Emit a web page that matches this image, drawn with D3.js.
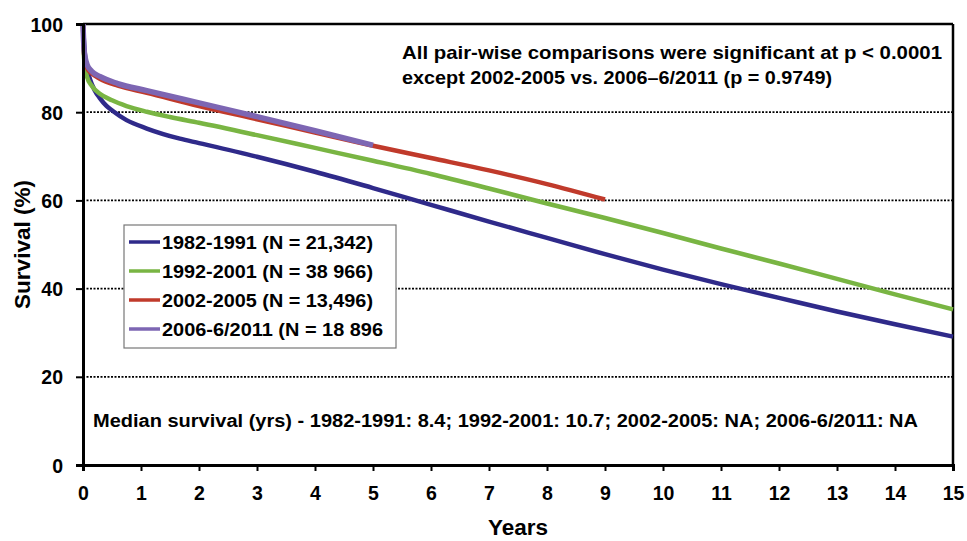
<!DOCTYPE html>
<html>
<head>
<meta charset="utf-8">
<script src="https://cdn.jsdelivr.net/npm/d3@7"></script>
<style>
  body { margin: 0; background: #fff; }
  svg { display: block; font-family: Arial, "Liberation Sans", sans-serif; }
</style>
</head>
<body>
<svg width="967" height="541"></svg>
<script>
// series (years, survival %)
const seriesNames = ["1982-1991 (N = 21,342)", "1992-2001 (N = 38 966)", "2002-2005 (N = 13,496)", "2006-6/2011 (N = 18 896"];
const seriesColors = ["#2f2a8a", "#79b543", "#c03a2b", "#7d66b3"];

const t1 = [0, 0.03, 0.07, 0.12, 0.2, 0.29, 0.4, 0.52, 0.75, 1.1, 1.67, 2, 3, 4, 5, 6, 7, 8, 9, 10, 11, 12, 13, 14, 15];
const v1 = [100, 93.5, 90, 87.5, 85, 83.2, 81.5, 80.2, 78.2, 76.3, 74, 73, 69.9, 66.5, 62.8, 59, 55.2, 51.5, 47.8, 44.3, 41, 37.9, 34.8, 31.9, 29.1];

const t2 = [0, 0.02, 0.07, 0.15, 0.29, 0.5, 0.75, 1.1, 1.5, 2, 3, 4, 5, 6, 7, 8, 9, 10, 11, 12, 13, 14, 15];
const v2 = [100, 92, 88, 86, 84.2, 82.7, 81.4, 80.1, 78.9, 77.6, 74.8, 71.9, 69, 66, 62.7, 59.3, 56, 52.6, 49.1, 45.7, 42.2, 38.7, 35.3];

const t3 = [0, 0.02, 0.07, 0.15, 0.29, 0.6, 1.1, 2, 3, 4, 5, 6, 7, 8, 9];
const v3 = [100, 93, 90, 88.8, 87.6, 86, 84.4, 81.4, 78.4, 75.4, 72.4, 69.6, 66.8, 63.7, 60.2];

const t4 = [0, 0.02, 0.07, 0.15, 0.29, 0.6, 1.1, 2, 3, 4, 5];
const v4 = [100, 94, 90.8, 89.3, 88.1, 86.5, 84.9, 82.1, 79, 75.8, 72.5];

const xTicks = d3.range(0, 16);
const yTicks = [0, 20, 40, 60, 80, 100];
const gridValues = [20, 40, 60, 80];

const noteLines = ["All pair-wise comparisons were significant at p < 0.0001",
                   "except 2002-2005 vs. 2006\u20136/2011 (p = 0.9749)"];
const medianText = "Median survival (yrs) - 1982-1991: 8.4; 1992-2001: 10.7; 2002-2005: NA; 2006-6/2011: NA";

const series = [[t1, v1], [t2, v2], [t3, v3], [t4, v4]].map((s, i) => ({
  name: seriesNames[i],
  color: seriesColors[i],
  pts: s[0].map((t, j) => [t, s[1][j]])
}));

const svg = d3.select("svg");
const mLeft = 83, mRight = 953, mTop = 24, mBottom = 465;

const x = d3.scaleLinear().domain([0, 15]).range([mLeft, mRight]);
const y = d3.scaleLinear().domain([0, 100]).range([mBottom, mTop]);

// grid lines (dotted)
svg.append("g").selectAll("line").data(gridValues).enter().append("line")
  .attr("x1", mLeft).attr("x2", mRight)
  .attr("y1", d => y(d)).attr("y2", d => y(d))
  .attr("stroke", "#000").attr("stroke-width", 1.8)
  .attr("stroke-dasharray", "2,1.5");

// frame top / right
svg.append("line").attr("x1", mLeft).attr("x2", mRight).attr("y1", mTop).attr("y2", mTop)
  .attr("stroke", "#000").attr("stroke-width", 2.5);
svg.append("line").attr("x1", mRight).attr("x2", mRight).attr("y1", mTop).attr("y2", mBottom)
  .attr("stroke", "#000").attr("stroke-width", 2.5);

// curves
const line = d3.line().x(d => x(d[0])).y(d => y(d[1])).curve(d3.curveMonotoneX);
svg.append("g").selectAll("path").data(series).enter().append("path")
  .attr("d", d => line(d.pts))
  .attr("fill", "none")
  .attr("stroke", d => d.color)
  .attr("stroke-width", (d, i) => i === 3 ? 5.5 : 4.5)
  .attr("stroke-linecap", "butt");

// axes
const xAxis = svg.append("g").attr("transform", `translate(0,${mBottom})`)
  .call(d3.axisBottom(x).tickValues(xTicks).tickSize(6).tickPadding(15).tickFormat(d3.format("d")));
const yAxis = svg.append("g").attr("transform", `translate(${mLeft},0)`)
  .call(d3.axisLeft(y).tickValues(yTicks).tickSize(7).tickPadding(13).tickFormat(d3.format("d")));

xAxis.select(".domain").attr("stroke-width", 3);
yAxis.select(".domain").attr("stroke-width", 3);
[xAxis, yAxis].forEach(a => {
  a.selectAll(".tick line").attr("stroke-width", 2);
  a.selectAll(".tick text")
    .attr("fill", "#000")
    .style("font-size", "19.5px")
    .style("font-weight", "bold")
    .style("font-family", "Arial, 'Liberation Sans', sans-serif");
});
yAxis.selectAll(".tick text").attr("dy", "0.36em");

// axis titles
svg.append("text").attr("x", (mLeft + mRight) / 2).attr("y", 535)
  .attr("text-anchor", "middle").style("font-size", "22.5px").style("font-weight", "bold")
  .text("Years");
svg.append("text").attr("transform", `translate(30,${(mTop + mBottom) / 2}) rotate(-90)`)
  .attr("text-anchor", "middle").style("font-size", "22.5px").style("font-weight", "bold")
  .text("Survival (%)");

// note at top
svg.append("g").selectAll("text").data(noteLines).enter().append("text")
  .attr("x", 402).attr("y", (d, i) => 59 + i * 25)
  .attr("textLength", (d, i) => i === 0 ? 540 : 430).attr("lengthAdjust", "spacingAndGlyphs")
  .style("font-size", "19px").style("font-weight", "bold")
  .text(d => d);

// median text
svg.append("text").attr("x", 93).attr("y", 427)
  .attr("textLength", 825).attr("lengthAdjust", "spacingAndGlyphs")
  .style("font-size", "18px").style("font-weight", "bold")
  .text(medianText);

// legend
const lg = svg.append("g").attr("transform", "translate(124,225)");
lg.append("rect").attr("width", 272).attr("height", 123)
  .attr("fill", "#fff").attr("stroke", "#777").attr("stroke-width", 1.2);
const items = lg.selectAll("g").data(series).enter().append("g")
  .attr("transform", (d, i) => `translate(0,${17 + i * 29})`);
items.append("line").attr("x1", 5).attr("x2", 36)
  .attr("stroke", d => d.color).attr("stroke-width", 3.5);
items.append("text").attr("x", 38).attr("dy", "0.36em")
  .attr("textLength", (d, i) => [211, 211, 211, 221][i]).attr("lengthAdjust", "spacingAndGlyphs")
  .style("font-size", "18.5px").style("font-weight", "bold")
  .text(d => d.name);
</script>
</body>
</html>
